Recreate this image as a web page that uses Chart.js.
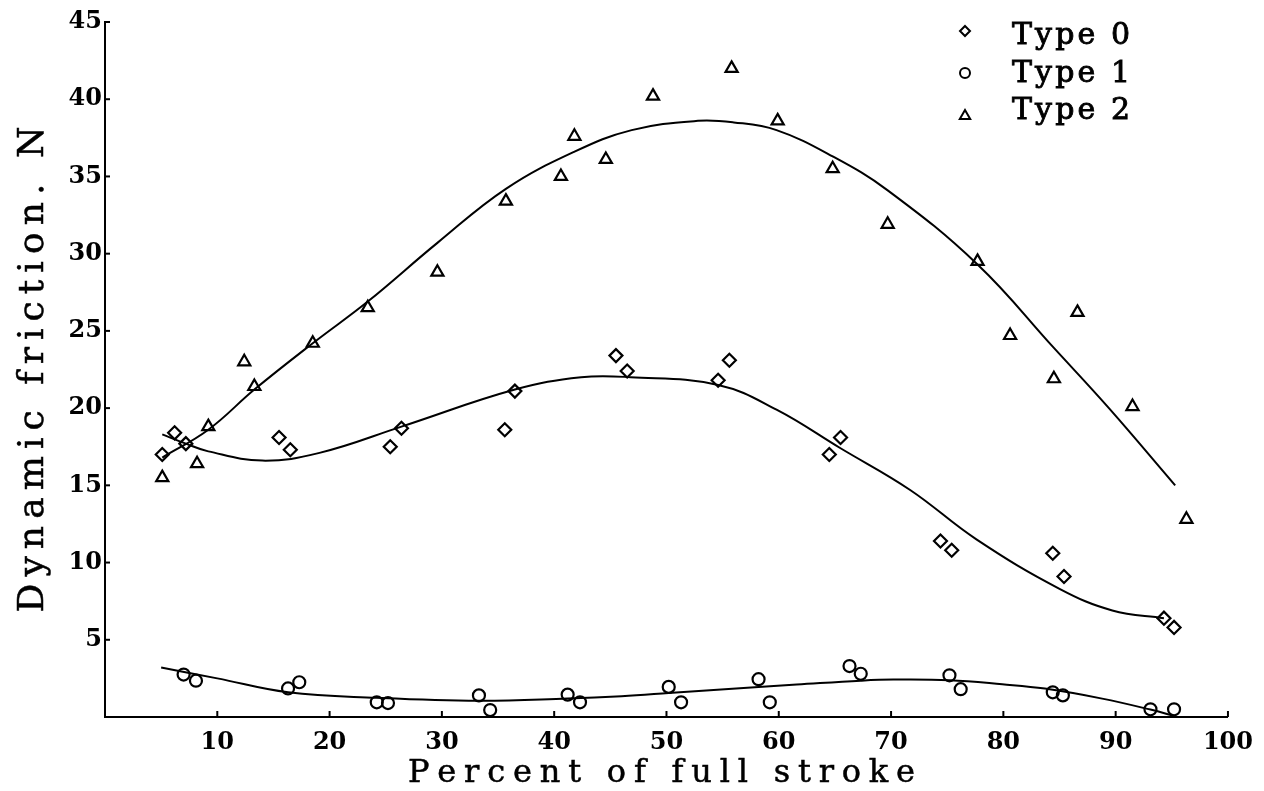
<!DOCTYPE html>
<html>
<head>
<meta charset="utf-8">
<script src="https://cdn.jsdelivr.net/npm/chart.js@4.4.1/dist/chart.umd.min.js"></script>
<style>
  html, body { margin: 0; padding: 0; background: #fff; }
  canvas { display: block; }
</style>
</head>
<body>
<canvas id="c" width="1264" height="791"></canvas>
<script>
// ---- Data ----
const type0X = [5.1, 6.2, 7.2, 15.5, 16.5, 25.4, 26.4, 35.6, 36.5, 45.5, 46.5, 54.6, 55.6, 64.5, 65.5, 74.4, 75.4, 84.4, 85.4, 94.3, 95.2];
const type0Y = [17.0, 18.4, 17.7, 18.1, 17.3, 17.5, 18.7, 18.6, 21.1, 23.4, 22.4, 21.8, 23.1, 17.0, 18.1, 11.4, 10.8, 10.6, 9.1, 6.4, 5.8];

const type1X = [7.0, 8.1, 16.3, 17.3, 24.2, 25.2, 33.3, 34.3, 41.2, 42.3, 50.2, 51.3, 58.2, 59.2, 66.3, 67.3, 75.2, 76.2, 84.4, 85.3, 93.1, 95.2];
const type1Y = [2.75, 2.35, 1.85, 2.25, 0.95, 0.9, 1.4, 0.45, 1.45, 0.95, 1.95, 0.95, 2.45, 0.95, 3.3, 2.8, 2.7, 1.8, 1.6, 1.4, 0.5, 0.5];

const type2X = [5.1, 8.2, 9.2, 12.4, 13.3, 18.5, 23.4, 29.6, 35.7, 40.6, 41.8, 44.6, 48.8, 55.8, 59.9, 64.8, 69.7, 77.7, 80.6, 84.5, 86.6, 91.5, 96.3];
const type2Y = [15.5, 16.4, 18.8, 23.0, 21.4, 24.2, 26.5, 28.8, 33.4, 35.0, 37.6, 36.1, 40.2, 42.0, 38.6, 35.5, 31.9, 29.5, 24.7, 21.9, 26.2, 20.1, 12.8];

// fitted curves at several x positions
const fit0X = [5.1, 7.2, 9.2, 14.0, 19.1, 26.4, 36.5, 42.4, 46.8, 54.6, 59.8, 65.5, 71.7, 77.6, 85.0, 89.7, 94.3];
const fit0Y = [18.3, 17.7, 17.2, 16.6, 17.1, 18.8, 21.2, 22.0, 22.0, 21.5, 19.9, 17.4, 14.7, 11.5, 8.3, 6.9, 6.4];

const fit1X = [5.0, 10.0, 16.3, 24.2, 33.3, 41.2, 46.0, 50.2, 58.2, 61.6, 67.3, 70.2, 75.2, 79.9, 83.7, 88.8, 93.1, 95.3];
const fit1Y = [3.2, 2.5, 1.6, 1.24, 1.05, 1.2, 1.35, 1.55, 1.95, 2.1, 2.35, 2.42, 2.38, 2.12, 1.84, 1.19, 0.48, 0.05];

const fit2X = [5.1, 9.2, 13.3, 18.5, 23.4, 29.6, 35.7, 41.8, 46.9, 52.8, 56.0, 59.8, 64.8, 69.7, 77.7, 84.5, 89.4, 95.3];
const fit2Y = [16.8, 18.6, 21.2, 24.2, 26.9, 30.7, 34.2, 36.6, 38.0, 38.6, 38.5, 38.0, 36.3, 34.1, 29.3, 23.9, 20.0, 15.0];

const xTicks = [10, 20, 30, 40, 50, 60, 70, 80, 90, 100];
const yTicks = [5, 10, 15, 20, 25, 30, 35, 40, 45];
const legendLabels = ['Type 0', 'Type 1', 'Type 2'];
const xTitle = 'Percent of full stroke';
const yTitle = 'Dynamic friction. N';

// ---- helpers ----
const pts = (xs, ys) => xs.map((x, i) => ({ x: x, y: ys[i] }));
const SERIF = "'DejaVu Serif', 'Liberation Serif', serif";

// draw text spread over a given width (typewriter-like spacing)
function spreadText(ctx, text, xStart, y, width, heavy) {
  const chars = Array.from(text);
  const widths = chars.map(c => ctx.measureText(c).width);
  const natural = widths.reduce((a, b) => a + b, 0);
  const gap = (width - natural) / (chars.length - 1);
  let x = xStart;
  chars.forEach((c, i) => {
    ctx.fillText(c, x, y);
    if (heavy) ctx.strokeText(c, x, y);
    x += widths[i] + gap;
  });
}

const innerTicks = {
  id: 'innerTicks',
  afterDraw(chart) {
    const { ctx, chartArea: a, scales: { x, y } } = chart;
    ctx.save();
    ctx.strokeStyle = '#000';
    ctx.lineWidth = 2;
    yTicks.forEach(v => {
      const py = y.getPixelForValue(v);
      ctx.beginPath(); ctx.moveTo(a.left, py); ctx.lineTo(a.left + 5, py); ctx.stroke();
    });
    xTicks.forEach(v => {
      const px = x.getPixelForValue(v);
      ctx.beginPath(); ctx.moveTo(px, a.bottom); ctx.lineTo(px, a.bottom - 6); ctx.stroke();
    });
    ctx.restore();
  }
};

const axisTitles = {
  id: 'axisTitles',
  afterDraw(chart) {
    const { ctx, chartArea: a } = chart;
    ctx.save();
    ctx.fillStyle = '#000';
    ctx.strokeStyle = '#000';
    ctx.lineWidth = 0.5;
    ctx.textAlign = 'left';
    ctx.textBaseline = 'alphabetic';
    // x title
    ctx.font = "32px " + SERIF;
    spreadText(ctx, xTitle, 408, 782, 507, true);
    // y title (rotated)
    ctx.font = "36px " + SERIF;
    ctx.translate(43, (a.top + a.bottom) / 2);
    ctx.rotate(-Math.PI / 2);
    spreadText(ctx, yTitle, -243, 0, 486, true);
    ctx.restore();
  }
};

function marker(ctx, style, cx, cy, r) {
  ctx.beginPath();
  if (style === 'rectRot') {
    ctx.moveTo(cx, cy - r); ctx.lineTo(cx + r, cy); ctx.lineTo(cx, cy + r); ctx.lineTo(cx - r, cy); ctx.closePath();
  } else if (style === 'circle') {
    ctx.arc(cx, cy, r, 0, Math.PI * 2);
  } else {
    const h = r * Math.sqrt(3) / 2;
    ctx.moveTo(cx, cy - r); ctx.lineTo(cx + h, cy + r / 2); ctx.lineTo(cx - h, cy + r / 2); ctx.closePath();
  }
  ctx.stroke();
}

const customLegend = {
  id: 'customLegend',
  afterDraw(chart) {
    const ctx = chart.ctx;
    const rows = chart.data.datasets.filter(d => d.legendRow !== undefined);
    const markerY = [31, 73, 116];
    const textY = [44, 82, 119];
    ctx.save();
    ctx.strokeStyle = '#000';
    ctx.fillStyle = '#000';
    ctx.font = "30px " + SERIF;
    ctx.textBaseline = 'alphabetic';
    ctx.textAlign = 'left';
    rows.forEach(d => {
      const i = d.legendRow;
      ctx.lineWidth = 2;
      marker(ctx, d.pointStyle, 965, markerY[i], d.pointStyle === 'triangle' ? 6 : 5);
      ctx.lineWidth = 0.9;
      spreadText(ctx, d.label, 1012, textY[i], 118, true);
    });
    ctx.restore();
  }
};

const scatterDs = (label, xs, ys, style, r, row) => ({
  label: label, data: pts(xs, ys), pointStyle: style, pointRadius: r,
  pointBorderWidth: 2.2, borderColor: '#000', backgroundColor: 'rgba(0,0,0,0)',
  pointBackgroundColor: 'rgba(0,0,0,0)', pointBorderColor: '#000', showLine: false,
  legendRow: row
});
const fitDs = (xs, ys) => ({
  label: 'fit', data: pts(xs, ys), showLine: true, pointRadius: 0,
  borderColor: '#000', borderWidth: 2, tension: 0.4, fill: false
});

new Chart(document.getElementById('c'), {
  type: 'scatter',
  data: {
    datasets: [
      fitDs(fit0X, fit0Y),
      fitDs(fit1X, fit1Y),
      fitDs(fit2X, fit2Y),
      scatterDs(legendLabels[0], type0X, type0Y, 'rectRot', 6.5, 0),
      scatterDs(legendLabels[1], type1X, type1Y, 'circle', 6, 1),
      scatterDs(legendLabels[2], type2X, type2Y, 'triangle', 7, 2)
    ]
  },
  options: {
    responsive: false,
    animation: false,
    events: [],
    layout: { padding: { left: 0, top: 22, right: 31, bottom: 0 } },
    plugins: { legend: { display: false }, tooltip: { enabled: false } },
    scales: {
      x: {
        type: 'linear', min: 0, max: 100,
        afterBuildTicks: s => { s.ticks = xTicks.map(v => ({ value: v })); },
        afterFit: s => { s.height = 74; },
        grid: { display: false, drawTicks: false },
        border: { display: true, color: '#000', width: 2 },
        ticks: { autoSkip: false, maxRotation: 0, padding: 11, color: '#000',
                 font: { family: SERIF, size: 24, weight: 'bold' } }
      },
      y: {
        type: 'linear', min: 0, max: 45,
        afterBuildTicks: s => { s.ticks = yTicks.map(v => ({ value: v })); },
        afterFit: s => { s.width = 105; },
        grid: { display: false, drawTicks: false },
        border: { display: true, color: '#000', width: 2 },
        ticks: { padding: 3, color: '#000',
                 font: { family: SERIF, size: 24, weight: 'bold' } }
      }
    }
  },
  plugins: [innerTicks, axisTitles, customLegend]
});
</script>
</body>
</html>
